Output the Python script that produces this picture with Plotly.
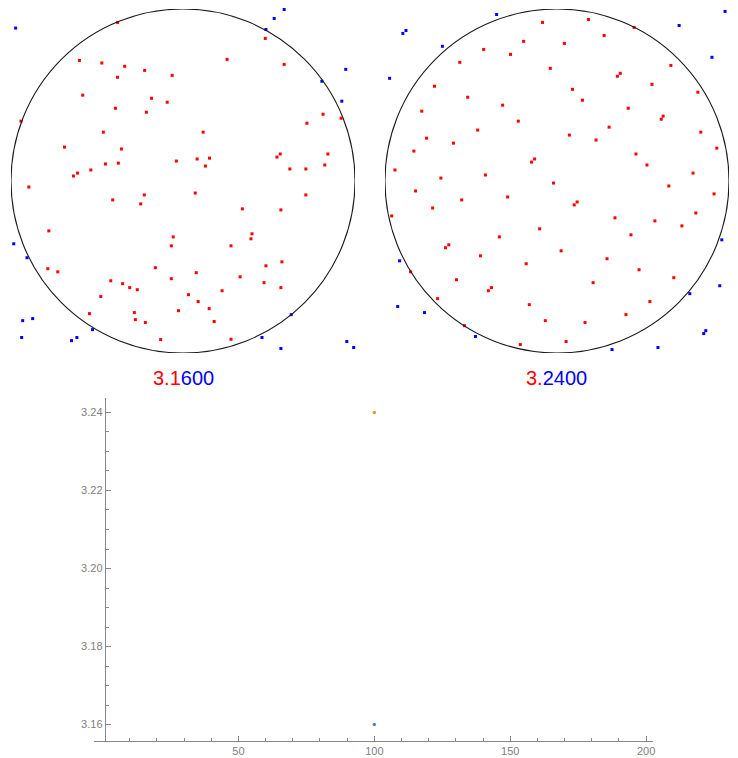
import plotly.graph_objects as go

# ---- data (sample points in the square [-1,1]^2) ----
left_in_x = [-0.380,-0.602,-0.472,-0.339,-0.223,-0.063,-0.381,-0.583,-0.183,-0.092,-0.393,-0.213,-0.942,-0.463,-0.689,-0.358,-0.039,-0.451,-0.376,-0.536,-0.613,-0.637,
             0.478,0.256,0.588,0.814,0.919,0.720,0.117,0.082,0.154,0.130,0.565,0.546,0.842,0.824,0.621,0.714,
             -0.896,-0.225,-0.409,-0.246,-0.780,-0.057,-0.068,-0.161,-0.786,-0.728,-0.068,-0.420,-0.351,-0.310,-0.266,0.032,-0.478,-0.026,-0.544,-0.283,-0.277,-0.219,-0.130,
             0.071,0.714,0.345,0.569,0.401,0.395,0.279,0.482,0.575,0.077,0.332,0.471,0.569,0.227,0.088,0.152,0.181,0.279]
left_in_y = [0.922,0.701,0.686,0.667,0.643,0.614,0.603,0.499,0.481,0.458,0.423,0.400,0.348,0.284,0.197,0.186,0.116,0.099,0.104,0.064,0.046,0.029,
             0.829,0.707,0.678,0.388,0.365,0.336,0.284,0.128,0.133,0.087,0.157,0.139,0.157,0.093,0.070,0.070,
             -0.035,-0.081,-0.110,-0.133,-0.290,-0.325,-0.377,-0.504,-0.510,-0.528,-0.568,-0.580,-0.597,-0.620,-0.632,-0.661,-0.672,-0.754,-0.771,-0.765,-0.806,-0.823,-0.922,
             -0.070,-0.081,-0.162,-0.168,-0.307,-0.336,-0.377,-0.493,-0.470,-0.533,-0.557,-0.591,-0.620,-0.638,-0.701,-0.742,-0.817,-0.920]
left_out_x = [-0.973,0.588,0.530,0.482,0.946,0.807,0.923,-0.984,-0.907,-0.932,-0.874,-0.938,-0.648,-0.617,-0.526,0.629,0.459,0.569,0.952,0.992]
left_out_y = [0.889,0.997,0.945,0.881,0.649,0.580,0.464,-0.365,-0.446,-0.812,-0.800,-0.910,-0.928,-0.910,-0.864,-0.777,-0.910,-0.974,-0.933,-0.968]

right_in_x = [-0.084,-0.194,-0.426,-0.270,-0.565,-0.039,-0.712,-0.519,-0.316,-0.786,-0.225,-0.461,-0.758,-0.602,-0.832,-0.130,-0.148,-0.942,-0.675,-0.416,-0.020,
              0.183,0.448,0.274,0.043,0.662,0.368,0.351,0.552,0.819,0.090,0.148,0.414,0.617,0.606,0.303,0.836,0.072,0.227,0.929,0.459,0.523,0.791,
              -0.822,-0.554,-0.287,-0.723,-0.961,-0.101,-0.335,-0.629,-0.648,-0.445,0.024,-0.179,-0.851,-0.584,-0.381,-0.399,-0.694,-0.161,-0.068,-0.538,-0.213,
              0.650,0.913,0.117,0.100,0.337,0.807,0.569,0.726,0.430,0.291,0.477,0.679,0.210,0.540,0.401,0.163,0.053]
right_in_y = [0.922,0.812,0.765,0.736,0.690,0.655,0.551,0.487,0.441,0.406,0.348,0.296,0.249,0.220,0.174,0.128,0.110,0.064,0.017,0.035,-0.012,
              0.939,0.893,0.846,0.800,0.672,0.626,0.609,0.562,0.516,0.533,0.470,0.423,0.377,0.359,0.313,0.284,0.267,0.238,0.191,0.157,0.093,0.046,
              -0.058,-0.110,-0.093,-0.157,-0.203,-0.278,-0.325,-0.371,-0.388,-0.435,-0.406,-0.481,-0.528,-0.574,-0.620,-0.638,-0.684,-0.719,-0.812,-0.841,-0.951,
              -0.029,-0.075,-0.122,-0.139,-0.214,-0.186,-0.232,-0.261,-0.313,-0.452,-0.516,-0.562,-0.591,-0.701,-0.777,-0.823,-0.933]
right_out_x = [-0.351,-0.878,-0.896,-0.666,-0.973,0.977,0.710,0.901,-0.915,-0.926,-0.770,-0.474,0.958,0.946,0.772,0.865,0.853,0.320,0.587]
right_out_y = [0.968,0.875,0.858,0.783,0.597,0.986,0.904,0.719,-0.464,-0.730,-0.765,-0.904,-0.342,-0.609,-0.655,-0.870,-0.887,-0.980,-0.968]

estimates = [3.16, 3.24]
sample_sizes = [100, 100]
est_colors = ["#5E81B5", "#E19C24"]
PI_STR = "3.14159265"

# page has an 8px body margin; figure sized to fit the 738x758 window
OFF = 8
W, H = 738 - OFF, 758 - OFF
def px(x): return (x - OFF) / W
def py(y): return 1 - (y - OFF) / H

fig = go.Figure()

panels = [
    (left_in_x, left_in_y, left_out_x, left_out_y, "x", "y"),
    (right_in_x, right_in_y, right_out_x, right_out_y, "x2", "y2"),
]
for ix, iy, ox, oy, xa, ya in panels:
    fig.add_trace(go.Scatter(x=ix, y=iy, mode="markers", xaxis=xa, yaxis=ya,
                             marker=dict(symbol="square", size=3, color="#ff0000", line=dict(width=0)),
                             cliponaxis=False, showlegend=False, hoverinfo="skip"))
    fig.add_trace(go.Scatter(x=ox, y=oy, mode="markers", xaxis=xa, yaxis=ya,
                             marker=dict(symbol="square", size=3, color="#0000ff", line=dict(width=0)),
                             cliponaxis=False, showlegend=False, hoverinfo="skip"))
    fig.add_shape(type="circle", xref=xa, yref=ya, x0=-1, y0=-1, x1=1, y1=1,
                  line=dict(color="#1a1a1a", width=1.1))

for i, (v, c) in enumerate(zip(estimates, est_colors)):
    fig.add_trace(go.Scatter(x=[sample_sizes[i]], y=[v], mode="markers", xaxis="x3", yaxis="y3",
                             marker=dict(size=3.5, color=c, line=dict(width=0)),
                             showlegend=False, hoverinfo="skip", cliponaxis=False))

def label(v):
    s = f"{v:.4f}"
    k = 0
    while k < len(s) and s[k] == PI_STR[k]:
        k += 1
    return f'<span style="color:#ff0000">{s[:k]}</span><span style="color:#0000ff">{s[k:]}</span>'

for v, cx in zip(estimates, [183.5, 558.5]):
    fig.add_annotation(x=px(cx), y=py(378), xref="paper", yref="paper", text=label(v),
                       showarrow=False, font=dict(family="Liberation Sans, Arial", size=20),
                       xanchor="center", yanchor="middle")

hidden = dict(visible=False, range=[-1, 1], fixedrange=True)
axis_font = dict(family="Liberation Sans, Arial", size=11, color="#808080")
fig.update_layout(
    width=W, height=H, margin=dict(l=0, r=0, t=0, b=0),
    paper_bgcolor="white", plot_bgcolor="rgba(0,0,0,0)",
    xaxis=dict(hidden, domain=[px(11), px(356)], anchor="y"),
    yaxis=dict(hidden, domain=[py(353), py(9)], anchor="x"),
    xaxis2=dict(hidden, domain=[px(386), px(731)], anchor="y2"),
    yaxis2=dict(hidden, domain=[py(353), py(9)], anchor="x2"),
    xaxis3=dict(domain=[px(94), px(655)], anchor="y3", range=[-3.2, 202.6],
                showline=True, linecolor="#888888", linewidth=1, showgrid=False, zeroline=False,
                tickmode="array", tickvals=[50, 100, 150, 200], ticks="inside", ticklen=5,
                tickcolor="#888888", tickfont=axis_font,
                minor=dict(tickvals=[10, 20, 30, 40, 60, 70, 80, 90, 110, 120, 130, 140, 160, 170, 180, 190],
                           ticks="inside", ticklen=3, tickcolor="#888888")),
    yaxis3=dict(domain=[py(741), py(398)], anchor="free", position=px(105), range=[3.1558, 3.2437],
                showline=True, linecolor="#888888", linewidth=1, showgrid=False, zeroline=False,
                tickmode="array", tickvals=[3.16, 3.18, 3.20, 3.22, 3.24],
                ticktext=["3.16", "3.18", "3.20", "3.22", "3.24"], ticks="inside", ticklen=5,
                tickcolor="#888888", tickfont=axis_font,
                minor=dict(dtick=0.005, tick0=3.16, ticks="inside", ticklen=3, tickcolor="#888888")),
)

fig.write_html("out.html")
